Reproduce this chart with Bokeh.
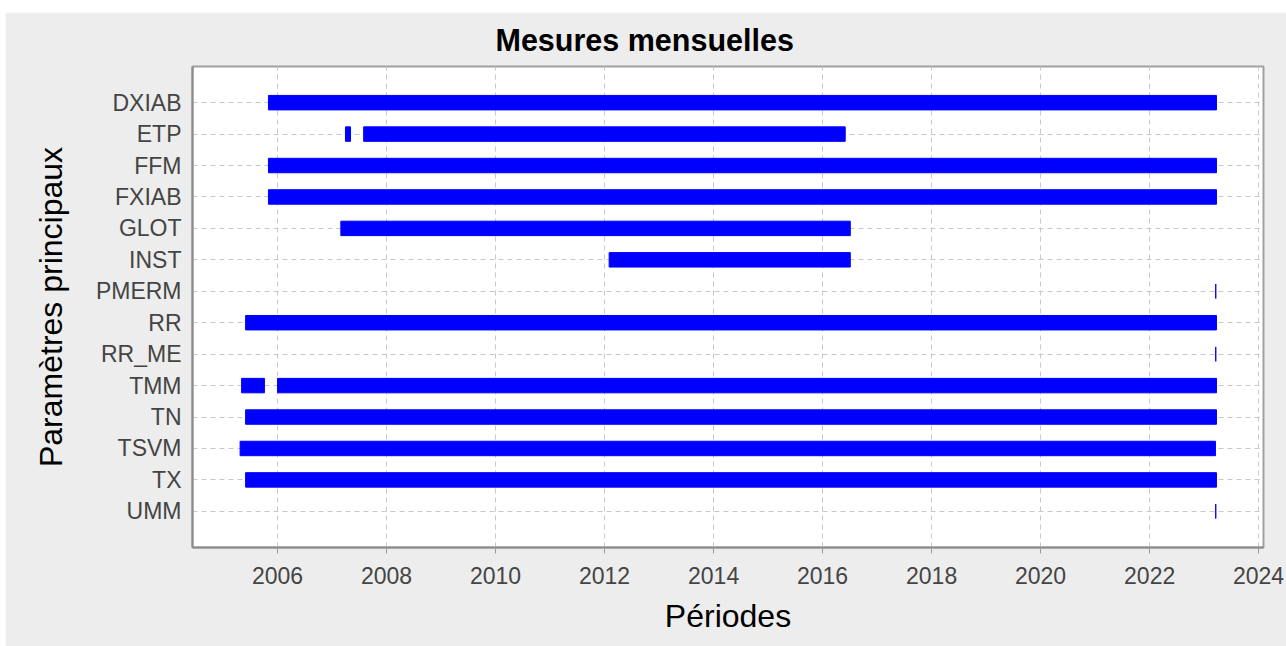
import pandas as pd
from bokeh.plotting import figure
from bokeh.models import (ColumnDataSource, FactorRange, Range1d, FixedTicker,
                          DatetimeTickFormatter)
from bokeh.embed import file_html
from bokeh.resources import INLINE

# ---- data -------------------------------------------------------------
params = ["DXIAB", "ETP", "FFM", "FXIAB", "GLOT", "INST", "PMERM",
          "RR", "RR_ME", "TMM", "TN", "TSVM", "TX", "UMM"]

seg_param = ["DXIAB", "ETP", "ETP", "FFM", "FXIAB", "GLOT", "INST", "PMERM",
             "RR", "RR_ME", "TMM", "TMM", "TN", "TSVM", "TX", "UMM"]
seg_start = ["2005-11-01", "2007-04-01", "2007-08-01", "2005-11-01",
             "2005-11-01", "2007-03-01", "2012-02-01", "2023-03-20",
             "2005-06-01", "2023-03-20", "2005-05-05", "2006-01-01",
             "2005-06-01", "2005-04-25", "2005-06-01", "2023-03-20"]
seg_end = ["2023-03-25", "2007-05-05", "2016-06-01", "2023-03-25",
           "2023-03-25", "2016-07-05", "2016-07-05", "2023-03-20",
           "2023-03-25", "2023-03-20", "2005-10-05", "2023-03-25",
           "2023-03-25", "2023-03-18", "2023-03-25", "2023-03-20"]

tick_years = [2006, 2008, 2010, 2012, 2014, 2016, 2018, 2020, 2022, 2024]
x_start, x_end = "2004-06-10", "2024-02-03"

title = "Mesures mensuelles"
x_label = "Périodes"
y_label = "Paramètres principaux"

# ---- figure -----------------------------------------------------------
FONT = "Liberation Sans"

src = ColumnDataSource(dict(
    param=seg_param,
    start=pd.to_datetime(seg_start),
    end=pd.to_datetime(seg_end),
))

p = figure(
    width=1281, height=634,
    x_axis_type="datetime",
    y_range=FactorRange(factors=list(reversed(params)),
                        range_padding=0.0929, range_padding_units="percent"),
    x_range=Range1d(pd.Timestamp(x_start), pd.Timestamp(x_end)),
    output_backend="svg", toolbar_location=None,
    min_border_left=187, min_border_right=23,
    min_border_top=54, min_border_bottom=99,
    title=title,
)
p.styles = {"margin-left": "5px", "margin-top": "12px"}

p.hbar(y="param", left="start", right="end", height=0.46, source=src,
       fill_color="#0000ff", line_color="#0000ff", line_width=1)

p.background_fill_color = "white"
p.border_fill_color = "#ededed"
p.outline_line_color = "#a0a0a0"
p.outline_line_width = 2

p.title.text_font = FONT
p.title.text_font_size = "30.5px"
p.title.text_font_style = "bold"
p.title.text_color = "black"
p.title.align = "left"
p.title.offset = 303
p.title.vertical_align = "top"
p.title.standoff = 16

# grid
for g in (p.xgrid, p.ygrid):
    g.grid_line_color = "#c8c8c8"
    g.grid_line_dash = "5 4"
    g.grid_line_width = 1

# x axis
tick_ms = [pd.Timestamp(f"{y}-01-01").value // 10**6 for y in tick_years]
p.xaxis.ticker = FixedTicker(ticks=tick_ms)
p.xgrid.ticker = FixedTicker(ticks=tick_ms)
fmt = "%Y"
p.xaxis.formatter = DatetimeTickFormatter(
    years=fmt, months=fmt, days=fmt, hours=fmt, minutes=fmt, seconds=fmt,
    milliseconds=fmt, microseconds=fmt, hourmin=fmt, minsec=fmt)
p.xaxis.axis_label = x_label
p.yaxis.axis_label = y_label

for ax in (p.xaxis, p.yaxis):
    ax.axis_line_color = "#8c8c8c"
    ax.axis_line_width = 2
    ax.major_label_text_font = FONT
    ax.major_label_text_font_size = "23px"
    ax.major_label_text_color = "#444444"
    ax.axis_label_text_font = FONT
    ax.axis_label_text_font_size = "32px"
    ax.axis_label_text_font_style = "normal"
    ax.axis_label_text_color = "black"
    ax.minor_tick_line_color = None

p.xaxis.major_tick_line_color = "#999999"
p.xaxis.major_tick_in = 0
p.xaxis.major_tick_out = 6
p.xaxis.major_label_standoff = 13
p.xaxis.axis_label_standoff = 11

p.yaxis.major_tick_line_color = None
p.yaxis.major_tick_in = 0
p.yaxis.major_tick_out = 0
p.yaxis.major_label_standoff = 11
p.yaxis.axis_label_standoff = 24

open("out.html", "w").write(file_html(p, INLINE))
